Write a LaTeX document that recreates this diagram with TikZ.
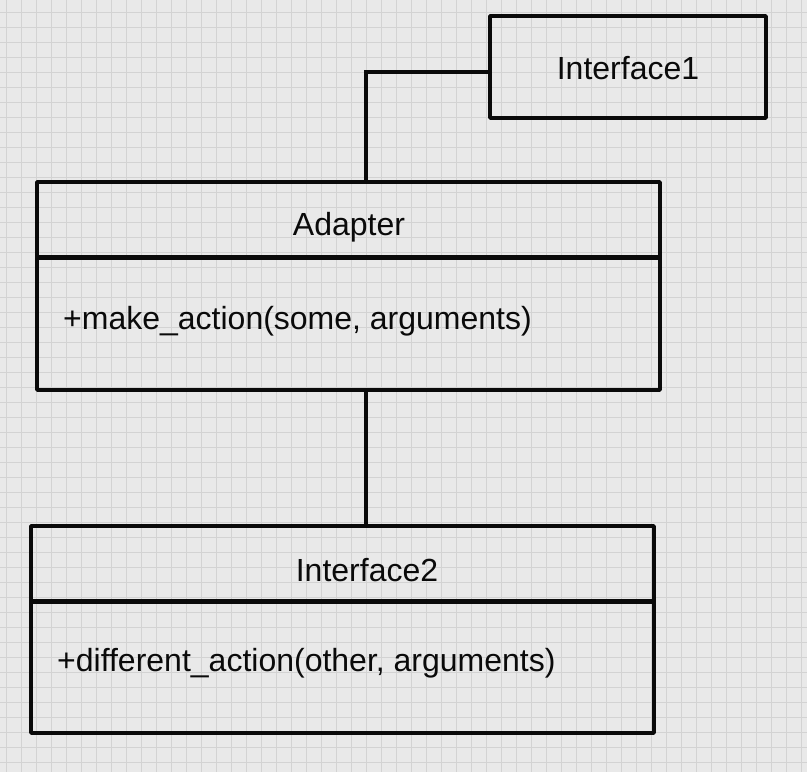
\documentclass[tikz,border=0pt]{standalone}
\usepackage{fontspec}
\setmainfont{Liberation Sans}
\definecolor{bg}{HTML}{E9E9E9}
\definecolor{gridc}{HTML}{D3D3D3}
\definecolor{ink}{HTML}{0A0A0A}
\tikzset{
  umlbox/.style={draw=ink, line width=3.6pt, rectangle, inner sep=0pt, line join=round},
  divider/.style={draw=ink, line width=5pt},
  conn/.style={draw=ink, line width=4pt, line join=miter},
  title/.style={font=\fontsize{32}{36}\selectfont, text=ink, inner sep=0pt},
  method/.style={font=\fontsize{32}{36}\selectfont, text=ink, inner sep=0pt, anchor=west},
}
\begin{document}
\begin{tikzpicture}[x=1pt,y=-1pt]
\fill[bg] (0,0) rectangle (807,772);
\useasboundingbox (0,0) rectangle (807,772);
% grid
\foreach \i in {0,...,53} {
  \draw[gridc, line width=1.2pt] ({6.5+15*\i},0) -- ({6.5+15*\i},772);
}
\foreach \j in {0,...,51} {
  \draw[gridc, line width=1.2pt] (0,{12.7+15*\j}) -- (807,{12.7+15*\j});
}
% boxes
\node[umlbox, minimum width=276pt, minimum height=102pt] (i1) at (628,67) {};
\node[title] (i1t) at (628,68) {Interface1};

\node[umlbox, minimum width=623pt, minimum height=208pt] (ad) at (348.5,286) {};
\node[title] (adt) at (349,227) {Adapter};
\coordinate (d1) at (0,257);
\draw[divider] (ad.west |- d1) -- (ad.east |- d1);
\node[method] (adm) at (63,321) {+make\_action(some, arguments)};

\node[umlbox, minimum width=623pt, minimum height=207pt] (i2) at (342.5,629.5) {};
\node[title] (i2t) at (367,570) {Interface2};
\coordinate (d2) at (0,601);
\draw[divider] (i2.west |- d2) -- (i2.east |- d2);
\node[method] (i2m) at (57,663) {+different\_action(other, arguments)};

% connectors
\coordinate (k1) at (366,72);
\draw[conn] (i1.west |- k1) -- (k1) -- (k1 |- ad.north);
\coordinate (k2) at (366,0);
\draw[conn] (ad.south -| k2) -- (i2.north -| k2);
\end{tikzpicture}
\end{document}
